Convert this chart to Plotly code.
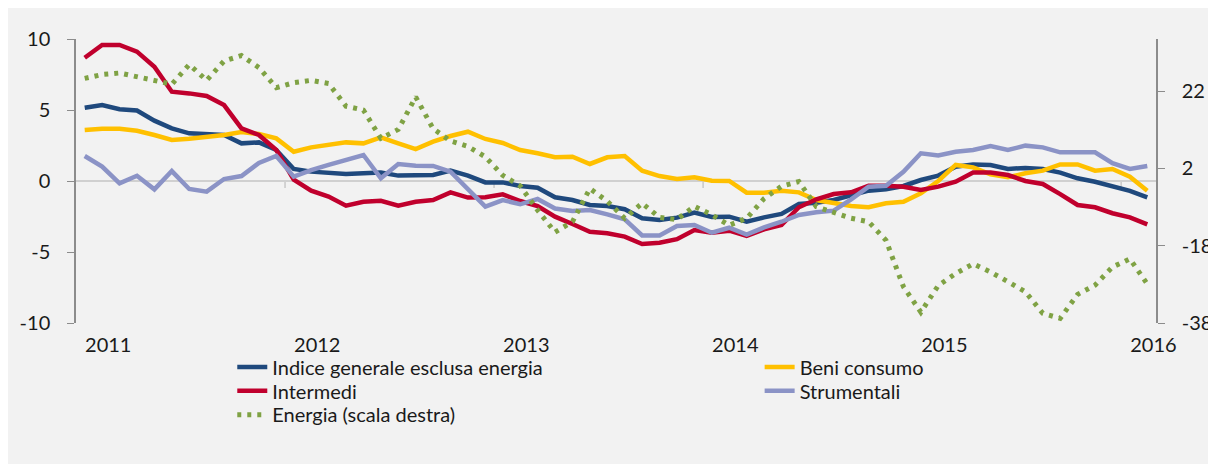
import plotly.graph_objects as go

# Monthly observations (Jan 2011 - Feb 2016), index 0..61
months = list(range(62))
year_labels = ["2011", "2012", "2013", "2014", "2015", "2016"]

indice = [5.16, 5.35, 5.05, 4.96, 4.25, 3.71, 3.36, 3.31, 3.24, 2.65, 2.72, 2.18,
          0.85, 0.66, 0.54, 0.50, 0.54, 0.59, 0.38, 0.38, 0.43, 0.73, 0.38, -0.10,
          -0.10, -0.35, -0.47, -1.15, -1.34, -1.69, -1.76, -1.99, -2.63, -2.75, -2.58, -2.23,
          -2.53, -2.51, -2.87, -2.56, -2.32, -1.62, -1.53, -1.34, -0.99, -0.68, -0.59, -0.35,
          0.07, 0.38, 1.00, 1.17, 1.13, 0.85, 0.92, 0.85, 0.59, 0.19, -0.05, -0.35,
          -0.70, -1.15]
beni = [3.59, 3.68, 3.68, 3.54, 3.24, 2.89, 2.98, 3.08, 3.24, 3.45, 3.31, 3.00,
        2.06, 2.37, 2.54, 2.72, 2.65, 3.07, 2.65, 2.25, 2.77, 3.17, 3.47, 2.96,
        2.68, 2.18, 1.95, 1.67, 1.71, 1.20, 1.67, 1.76, 0.73, 0.35, 0.14, 0.26,
        0.02, 0.00, -0.82, -0.82, -0.68, -0.80, -1.34, -1.57, -1.76, -1.85, -1.57, -1.46,
        -0.87, 0.00, 1.13, 0.96, 0.47, 0.26, 0.54, 0.73, 1.17, 1.17, 0.73, 0.85,
        0.30, -0.68]
intermedi = [8.68, 9.58, 9.58, 9.11, 8.05, 6.29, 6.17, 5.99, 5.35, 3.71, 3.24, 2.18,
             0.10, -0.68, -1.10, -1.74, -1.46, -1.39, -1.74, -1.46, -1.34, -0.80, -1.17, -1.15,
             -0.94, -1.41, -1.76, -2.51, -3.03, -3.57, -3.68, -3.92, -4.44, -4.35, -4.10, -3.45,
             -3.64, -3.50, -3.87, -3.40, -3.10, -1.85, -1.29, -0.92, -0.80, -0.33, -0.33, -0.40,
             -0.63, -0.40, -0.05, 0.59, 0.59, 0.42, 0.00, -0.21, -0.92, -1.69, -1.85, -2.27,
             -2.56, -3.05]
strumentali = [1.76, 1.01, -0.16, 0.37, -0.59, 0.70, -0.56, -0.75, 0.14, 0.35, 1.27, 1.76,
               0.31, 0.77, 1.13, 1.48, 1.83, 0.19, 1.20, 1.08, 1.06, 0.66, -0.63, -1.81,
               -1.34, -1.64, -1.27, -1.94, -2.11, -2.04, -2.35, -2.70, -3.83, -3.83, -3.17, -3.10,
               -3.64, -3.29, -3.77, -3.27, -2.87, -2.39, -2.20, -2.09, -1.29, -0.40, -0.33, 0.65,
               1.95, 1.80, 2.06, 2.18, 2.46, 2.18, 2.49, 2.37, 2.02, 2.02, 2.02, 1.25,
               0.85, 1.06]
energia = [25.3, 26.3, 26.7, 25.7, 24.8, 23.8, 28.9, 24.8, 29.8, 31.2, 28.1, 22.9,
           24.2, 24.8, 24.0, 18.1, 17.1, 9.8, 12.1, 20.5, 12.3, 9.1, 7.7, 5.0,
           0.2, -2.5, -8.8, -14.5, -11.8, -3.2, -6.5, -10.9, -7.0, -10.7, -11.2, -7.8,
           -10.0, -12.7, -10.9, -5.8, -2.6, -1.4, -7.9, -9.5, -10.9, -11.8, -16.6, -28.6,
           -35.2, -28.3, -25.2, -22.7, -24.8, -27.3, -29.9, -35.5, -36.8, -30.6, -28.2, -23.5,
           -21.4, -27.9]

left_ticks = [-10, -5, 0, 5, 10]
right_ticks = [-38, -18, 2, 22]

BLUE = "#1F497D"
YELLOW = "#FFC000"
RED = "#C0002D"
LAVENDER = "#8B93C6"
GREEN = "#7FA244"
AXIS = "#8C8C8C"

series = [
    ("Indice generale esclusa energia", indice, dict(color=BLUE, width=4.5), "y", "legend"),
    ("Beni consumo", beni, dict(color=YELLOW, width=4.5), "y", "legend2"),
    ("Intermedi", intermedi, dict(color=RED, width=4.5), "y", "legend3"),
    ("Strumentali", strumentali, dict(color=LAVENDER, width=4.5), "y", "legend4"),
    ("Energia (scala destra)", energia, dict(color=GREEN, width=5, dash="4px,6px"), "y2", "legend5"),
]

fig = go.Figure()
for name, vals, line, yax, leg in series:
    fig.add_trace(go.Scatter(x=months, y=vals, mode="lines", name=name, line=line,
                             yaxis=yax, legend=leg))

# small tick marks on the category axis (y=0) at year boundaries
n = len(months)
for b in range(12, n, 12):
    fig.add_shape(type="line", xref="x", yref="y", x0=b - 0.5, x1=b - 0.5, y0=0, y1=-0.5,
                  line=dict(color="#C8C8C8", width=1.5), layer="below")

label_pos = [1.35 + 12 * k for k in range(len(year_labels))]

legend_common = dict(xanchor="left", yanchor="top", bgcolor="rgba(0,0,0,0)",
                     font=dict(size=20), borderwidth=0)
col1, col2 = 0.1447, 0.633
rows = [-0.086, -0.170, -0.254]

fig.update_layout(
    width=1216, height=464,
    margin=dict(l=64, r=67, t=31, b=149),
    paper_bgcolor="#F2F2F2", plot_bgcolor="#F2F2F2",
    font=dict(family="Lato", size=20, color="#1A1A1A"),
    showlegend=True,
    xaxis=dict(range=[-0.5, n - 0.5], tickvals=label_pos, ticktext=year_labels, ticks="",
               showgrid=False, zeroline=False, showline=False, ticklabelstandoff=8),
    yaxis=dict(range=[-10, 10], tickvals=left_ticks, ticktext=[str(v) for v in left_ticks],
               ticks="outside", ticklen=7,
               tickcolor=AXIS, tickwidth=1.2, showline=True, linecolor=AXIS, linewidth=1.5,
               showgrid=False, zeroline=True, zerolinecolor="#D0D0D0", zerolinewidth=2,
               ticklabelstandoff=13),
    yaxis2=dict(overlaying="y", side="right", range=[-38, 35.5], tickvals=right_ticks,
                ticktext=[str(v) for v in right_ticks],
                ticks="outside", ticklen=7, tickcolor=AXIS, tickwidth=1.2, showline=True,
                linecolor=AXIS, linewidth=1.5, showgrid=False, zeroline=False,
                ticklabelstandoff=13),
    legend=dict(x=col1, y=rows[0], **legend_common),
    legend2=dict(x=col2, y=rows[0], **legend_common),
    legend3=dict(x=col1, y=rows[1], **legend_common),
    legend4=dict(x=col2, y=rows[1], **legend_common),
    legend5=dict(x=col1, y=rows[2], **legend_common),
)

fig.write_html("out.html")
